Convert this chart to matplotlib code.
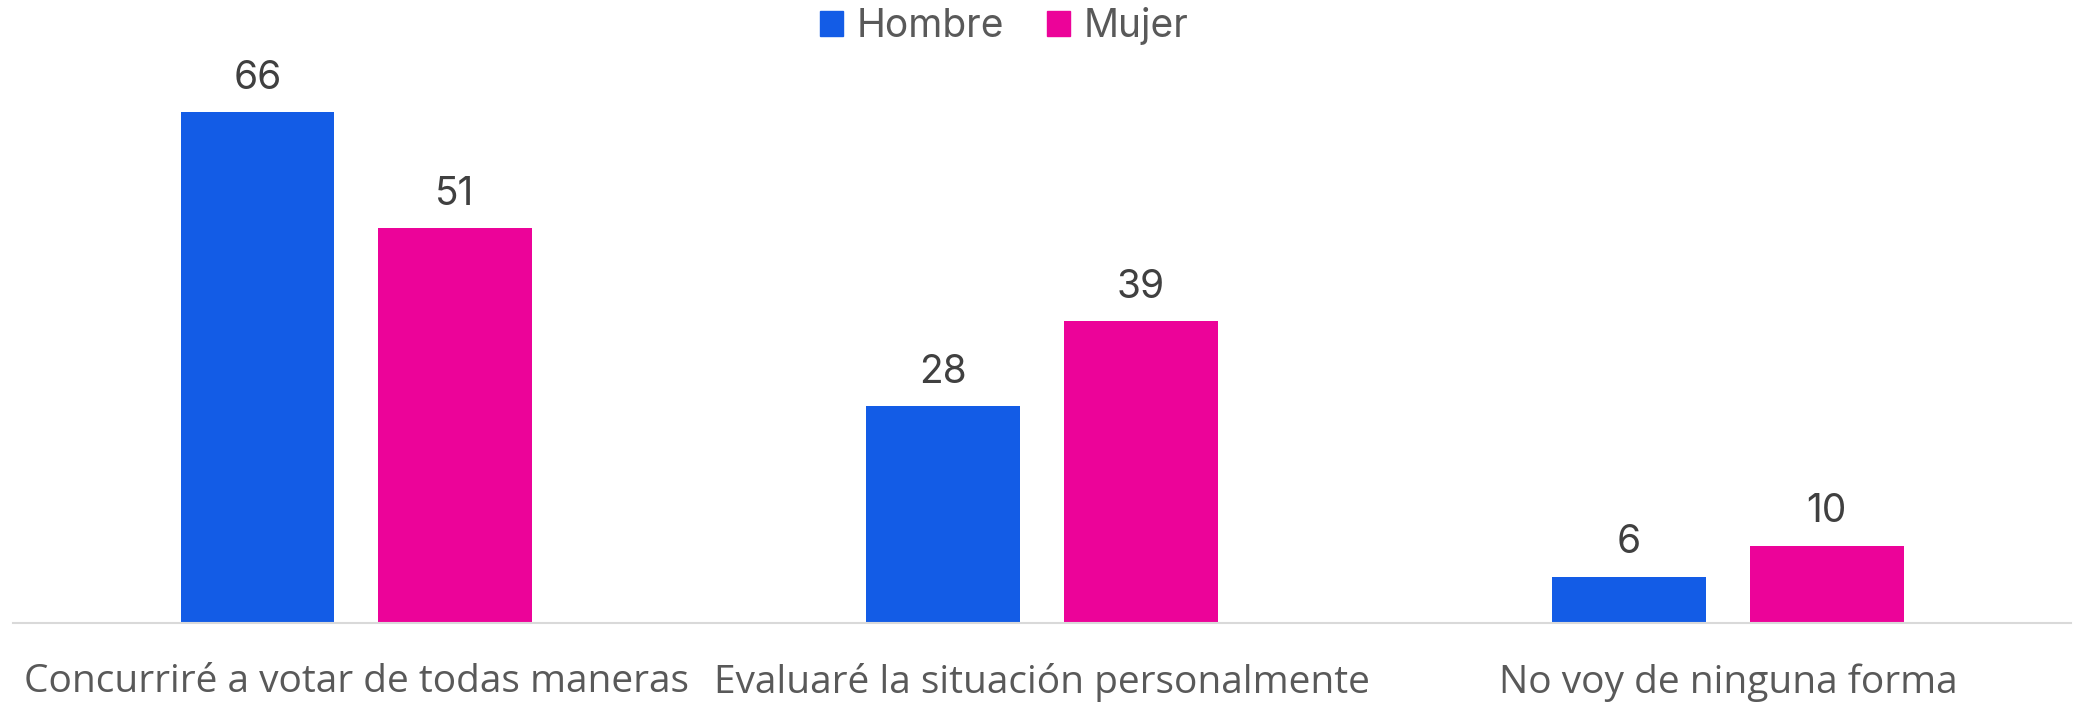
import numpy as np
import matplotlib.pyplot as plt
from matplotlib.patches import Patch

# Data
categories = ['Concurriré a votar de todas maneras',
              'Evaluaré la situación personalmente',
              'No voy de ninguna forma']
hombre = [66, 28, 6]
mujer = [51, 39, 10]
series_names = ['Hombre', 'Mujer']

blue = '#135CE6'
pink = '#EC0399'

fig = plt.figure(figsize=(20.75, 7.03), dpi=100)
ax = fig.add_axes([0.0064, 0.1138, 0.9916, 0.771])

x = np.arange(len(categories))
width = 0.224
offset = 0.144

bars_h = ax.bar(x - offset, hombre, width, color=blue)
bars_m = ax.bar(x + offset, mujer, width, color=pink)

# value labels above each bar
for bars in (bars_h, bars_m):
    for b in bars:
        ax.annotate(f'{b.get_height():g}', (b.get_x() + b.get_width() / 2, b.get_height()),
                    textcoords='offset points', xytext=(0, 11), ha='center', va='bottom',
                    fontsize=28, color='#404040', family='Inter')

ax.set_xlim(-0.5, 2.5)
ax.set_ylim(0, 70)
ax.set_xticks(x)
ax.set_xticklabels(categories, fontsize=28, color='#595959', family='Open Sans')
ax.tick_params(axis='x', length=0, pad=29)
ax.set_yticks([])

for side in ['top', 'right', 'left']:
    ax.spines[side].set_visible(False)
ax.spines['bottom'].set_color('#D9D9D9')
ax.spines['bottom'].set_linewidth(1.5)

handles = [Patch(color=blue), Patch(color=pink)]
fig.legend(handles, series_names, loc='center', bbox_to_anchor=(0.484, 0.963), ncol=2,
           frameon=False, handlelength=0.6, handleheight=0.6, handletextpad=0.35,
           columnspacing=1.1, prop={'family': 'Inter', 'size': 28}, labelcolor='#595959')

fig.savefig('out.png')
